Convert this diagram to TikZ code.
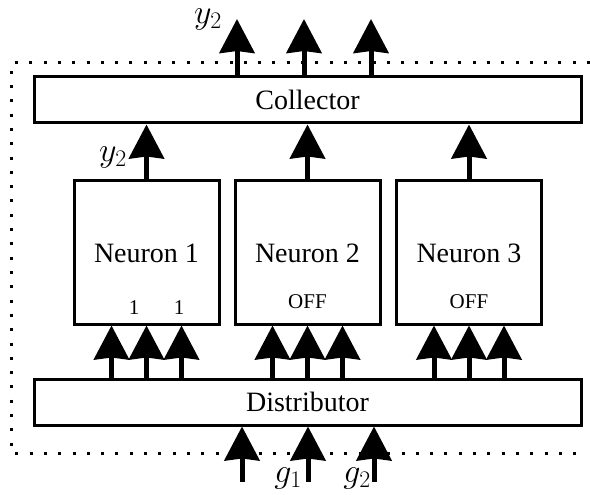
\RequirePackage{fix-cm}
\documentclass[tikz,border=0pt]{standalone}
\usepackage[no-math]{fontspec}
\setmainfont{Liberation Serif}
\usetikzlibrary{arrows.meta}
\begin{document}
\begin{tikzpicture}[x=1pt,y=-1pt,
  blk/.style={draw,line width=3pt,inner sep=0pt,font=\fontsize{28}{32}\selectfont},
  sig/.style={line width=5pt,-{Stealth[inset=2pt,width=35pt,length=34pt]}},
  lbl/.style={inner sep=0pt,font=\fontsize{34}{38}\selectfont},
  small/.style={inner sep=0pt,font=\fontsize{21}{24}\selectfont},
  frame/.style={line width=3pt,dash pattern=on 3pt off 11.3pt}]
\useasboundingbox (0,0) rectangle (590,495);
% outer dotted frame
\draw[frame] (590,63) -- (11.5,63) -- (11.5,453) -- (583,453);
% blocks
\node[blk,minimum width=547pt,minimum height=46pt] (coll) at (307.5,100) {Collector};
\node[blk,minimum width=547pt,minimum height=46pt] (dist) at (307.5,402) {Distributor};
\foreach \i/\x in {1/146.5,2/307.5,3/469}{
  \node[blk,draw=none] (t\i) at (\x,253) {Neuron \i};
  \node[blk,minimum width=145pt,minimum height=144pt] (n\i) at (\x,252) {};
}
\node[small] (w1) at (134,308) {1};
\node[small] (w2) at (179,308) {1};
\node[small] (o2) at (307.5,302) {OFF};
\node[small] (o3) at (469,302) {OFF};
% neuron outputs to collector
\foreach \i in {1,2,3}
  \draw[sig] (n\i.north) -- (n\i.north |- coll.south);
% distributor to neuron inputs
\foreach \i in {1,2,3}
  \foreach \d in {-35,0,35}
    \draw[sig] ([xshift=\d pt]n\i.south |- dist.north) -- ([xshift=\d pt]n\i.south);
% collector outputs
\foreach \k/\x in {1/237,2/304,3/371}{
  \coordinate (out\k) at (\x,19);
  \draw[sig] (out\k |- coll.north) -- (out\k);
}
% external inputs
\foreach \k/\x in {1/242,2/308,3/374}{
  \coordinate (in\k) at (\x,482);
  \draw[sig] (in\k) -- (in\k |- dist.south);
}
% signal labels
\node[lbl] (ytop) at (208,19) {$y_2$};
\node[lbl] (ymid) at (113,157) {$y_2$};
\node[lbl] (g1) at (288,478) {$g_1$};
\node[lbl] (g2) at (357,478) {$g_2$};
\end{tikzpicture}
\end{document}
